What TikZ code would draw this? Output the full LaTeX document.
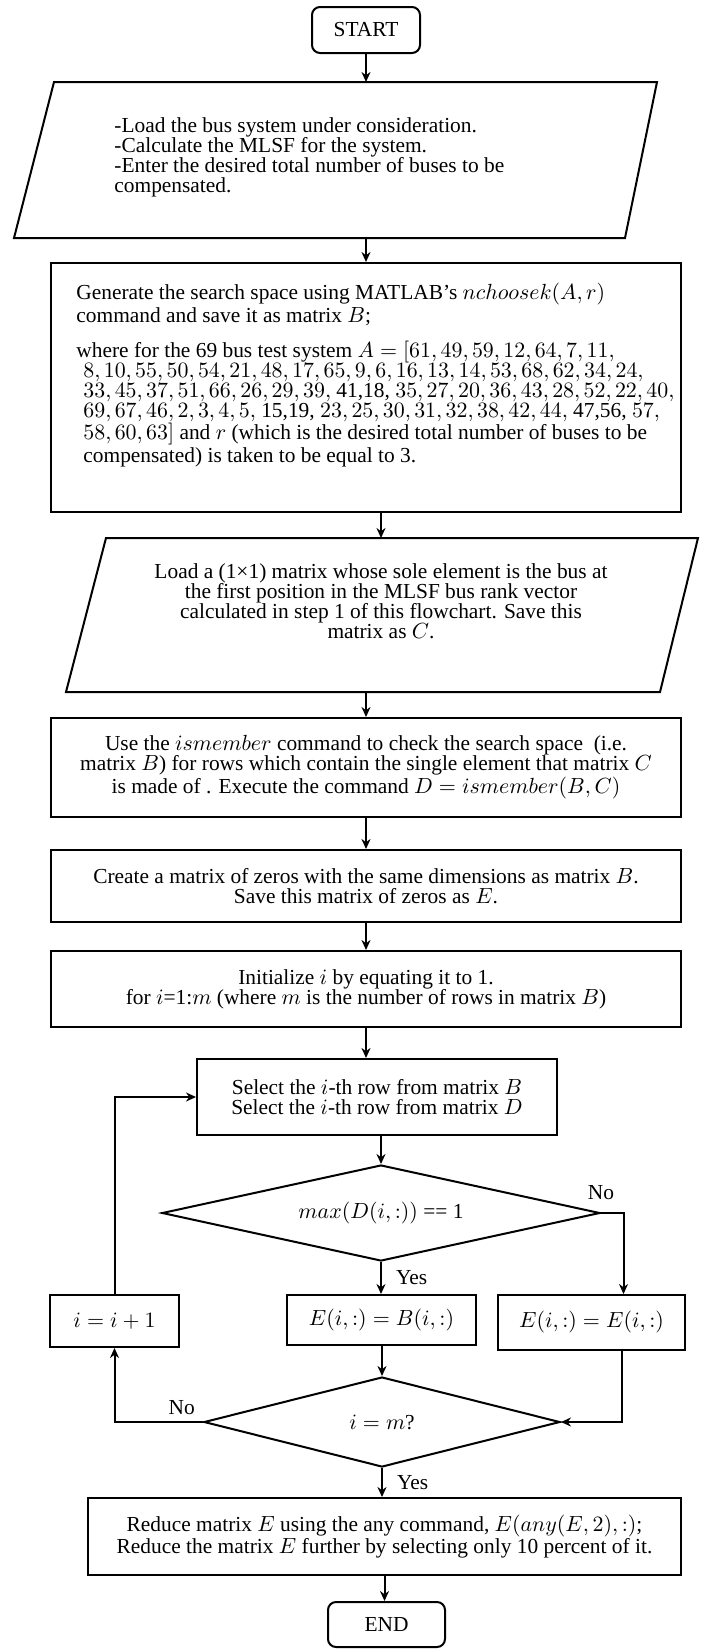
\documentclass[tikz,border=0pt]{standalone}
\usepackage{fontspec}
\setmainfont{Liberation Serif}
\usetikzlibrary{arrows.meta,shapes.geometric,positioning}
\begin{document}
\begin{tikzpicture}[x=0.5pt,y=-0.5pt,
  every node/.style={font=\fontsize{10.7}{10}\selectfont, inner sep=0pt},
  box/.style={draw, line width=1pt, align=center},
  termbox/.style={box, rounded corners=4pt},
  dec/.style={draw, line width=1pt, diamond},
  para/.style={draw, line width=1pt},
  flow/.style={line width=1pt, -{Stealth[length=5pt,width=4.5pt]}}]
\useasboundingbox (0,0) rectangle (701,1649);

\node[termbox, minimum width=54pt, minimum height=23pt] (start) at (366,30) {START};

\coordinate (p1tl) at (54,82);
\coordinate (p1tr) at (657,82);
\coordinate (p1br) at (625,238);
\coordinate (p1bl) at (14,238);
\draw[para] (p1tl) -- (p1tr) -- (p1br) -- (p1bl) -- cycle;
\node[align=left, anchor=west] (load) at (114,157) {-Load the bus system under consideration.\\
-Calculate the MLSF for the system.\\
-Enter the desired total number of buses to be\\
compensated.};

\node[box, minimum width=315pt, minimum height=124.5pt] (gen) at (366,387.5) {};
\node[align=left, anchor=west, execute at begin node={\thinmuskip=2.8mu}] (gentxt) at (76,375) {Generate the search space using MATLAB’s $nchoosek(A,r)$\\
command and save it as matrix $B$;\\[7.5pt]
where for the 69 bus test system $A=[61,49,59,12,64,7,11,$\\
\hspace*{3.5pt}$8,10,55,50,54,21,48,17,65,9,6,16,13,14,53,68,62,34,24,$\\
\hspace*{3.5pt}$33,45,37,51,66,26,29,39,$ 41,18, $35,27,20,36,43,28,52,22,40,$\\
\hspace*{3.5pt}$69,67,46,2,3,4,5,$ 15,19, $23,25,30,31,32,38,42,44,$ 47,56, $57,$\\
\hspace*{3.5pt}$58,60,63]$ and $r$ (which is the desired total number of buses to be\\
\hspace*{3.5pt}compensated) is taken to be equal to 3.};

\coordinate (p2tl) at (106,538);
\coordinate (p2tr) at (698,538);
\coordinate (p2br) at (660,692);
\coordinate (p2bl) at (66,692);
\draw[para] (p2tl) -- (p2tr) -- (p2br) -- (p2bl) -- cycle;
\node[align=center] (cmat) at (381,601) {Load a (1×1) matrix whose sole element is the bus at\\
the first position in the MLSF bus rank vector\\
calculated in step 1 of this flowchart. Save this\\
matrix as $C$.};

\node[box, minimum width=315pt, minimum height=49.5pt] (use) at (366,767.5) {Use the $ismember$ command to check the search space~ (i.e.\\
matrix $B$) for rows which contain the single element that matrix $C$\\
is made of . Execute the command $D=ismember(B,C)$};

\node[box, minimum width=315pt, minimum height=36pt] (zeros) at (366,886) {Create a matrix of zeros with the same dimensions as matrix $B$.\\
Save this matrix of zeros as $E$.};

\node[box, minimum width=315pt, minimum height=38pt] (init) at (366,989) {Initialize $i$ by equating it to 1.\\
for $i$=1:$m$ (where $m$ is the number of rows in matrix $B$)};

\node[box, minimum width=180pt, minimum height=38pt] (sel) at (377,1097) {Select the $i$-th row from matrix $B$\\
Select the $i$-th row from matrix $D$};

\node[dec, aspect=4.5, minimum width=219pt, minimum height=48pt] (d1) at (381,1213) {$max(D(i,:))$ == 1};

\node[box, minimum width=64.5pt, minimum height=26pt] (inc) at (114.5,1321) {$i=i+1$};
\node[box, minimum width=94.5pt, minimum height=25pt] (eb) at (381.5,1320) {$E(i,:)=B(i,:)$};
\node[box, minimum width=93.5pt, minimum height=27.5pt] (ee) at (591.5,1322.5) {$E(i,:)=E(i,:)$};

\node[dec, aspect=4, minimum width=178pt, minimum height=45pt] (d2) at (382,1422) {$i=m$?};

\node[box, minimum width=296.5pt, minimum height=38.5pt] (red) at (384.5,1536.5) {Reduce matrix $E$ using the any command, $E(any(E,2),:)$;\\
Reduce the matrix $E$ further by selecting only 10 percent of it.};

\node[termbox, minimum width=58.5pt, minimum height=22.5pt] (end) at (386.5,1624.5) {END};

\draw[flow] (start.south) -- (start.south |- p1tl);
\draw[flow] (gen.north |- p1bl) -- (gen.north);
\draw[flow] (cmat |- gen.south) -- (cmat |- p2tl);
\draw[flow] (use.north |- p2bl) -- (use.north);
\draw[flow] (use.south) -- (zeros.north);
\draw[flow] (zeros.south) -- (init.north);
\draw[flow] (init.south) -- (init.south |- sel.north);
\draw[flow] (d1.north |- sel.south) -- (d1.north);
\draw[flow] (d1.south) -- node[right=7pt] {Yes} (d1.south |- eb.north);
\draw[flow] (d1.east) node[above=6pt] {No} -| ([xshift=16pt]ee.north);
\draw[flow] ([xshift=15pt]ee.south) |- (d2.east);
\draw[flow] (d2.north |- eb.south) -- (d2.north);
\draw[flow] (d2.west) -| node[pos=0.12, above=3pt] {No} (inc.south);
\draw[flow] (inc.north) |- (sel.west);
\draw[flow] (d2.south) -- node[right=7pt] {Yes} (d2.south |- red.north);
\draw[flow] (red.south) -- (red.south |- end.north);
\end{tikzpicture}
\end{document}
